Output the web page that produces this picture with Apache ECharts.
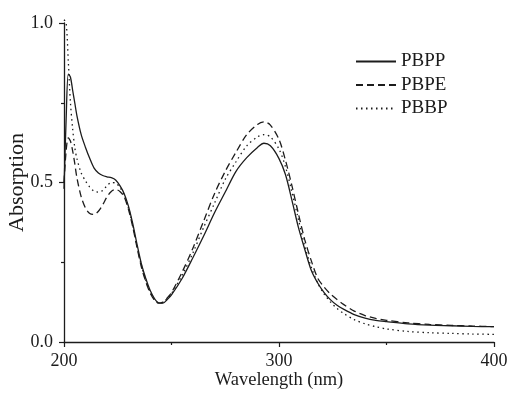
<!DOCTYPE html>
<html>
<head>
<meta charset="utf-8">
<script src="https://cdn.jsdelivr.net/npm/echarts@6/dist/echarts.min.js"></script>
<style>
  html, body { margin: 0; padding: 0; background: #fff; }
  #chart { width: 507px; height: 394px; }
</style>
</head>
<body>
<div id="chart"></div>
<script>
// absorption spectra
const wavelength = [200, 201, 202, 203, 204, 205, 206, 208, 210, 212, 214, 216, 218, 220, 222, 224, 226, 228, 230, 232, 234, 236, 238, 240, 242, 244, 246, 248, 250, 255, 260, 265, 270, 275, 280, 285, 290, 293, 296, 300, 303, 306, 309, 312, 315, 318, 321, 324, 327, 330, 335, 340, 345, 350, 360, 370, 380, 390, 400];

const pbpp = [0.48, 0.70, 0.84, 0.83, 0.79, 0.75, 0.71, 0.65, 0.61, 0.575, 0.545, 0.53, 0.522, 0.518, 0.515, 0.508, 0.49, 0.465, 0.425, 0.37, 0.305, 0.245, 0.20, 0.163, 0.137, 0.123, 0.122, 0.133, 0.148, 0.20, 0.265, 0.333, 0.405, 0.47, 0.535, 0.578, 0.61, 0.623, 0.615, 0.575, 0.525, 0.445, 0.36, 0.29, 0.225, 0.185, 0.155, 0.132, 0.115, 0.103, 0.086, 0.075, 0.068, 0.064, 0.057, 0.053, 0.051, 0.049, 0.048];

const pbpe = [0.50, 0.60, 0.64, 0.63, 0.60, 0.56, 0.515, 0.455, 0.42, 0.403, 0.40, 0.41, 0.43, 0.455, 0.472, 0.478, 0.472, 0.455, 0.415, 0.36, 0.295, 0.235, 0.19, 0.155, 0.132, 0.122, 0.125, 0.138, 0.155, 0.22, 0.295, 0.38, 0.465, 0.535, 0.595, 0.65, 0.682, 0.69, 0.68, 0.635, 0.57, 0.49, 0.403, 0.32, 0.255, 0.20, 0.172, 0.15, 0.133, 0.118, 0.097, 0.083, 0.074, 0.068, 0.06, 0.055, 0.052, 0.05, 0.048];

const pbbp = [1.01, 1.0, 0.88, 0.75, 0.67, 0.61, 0.575, 0.53, 0.505, 0.485, 0.473, 0.47, 0.475, 0.49, 0.50, 0.498, 0.485, 0.46, 0.42, 0.365, 0.30, 0.24, 0.195, 0.158, 0.134, 0.122, 0.124, 0.136, 0.152, 0.21, 0.28, 0.36, 0.435, 0.51, 0.565, 0.615, 0.643, 0.65, 0.643, 0.605, 0.55, 0.47, 0.385, 0.30, 0.235, 0.185, 0.15, 0.125, 0.105, 0.09, 0.07, 0.057, 0.048, 0.041, 0.033, 0.029, 0.027, 0.025, 0.024];

const seriesNames = ['PBPP', 'PBPE', 'PBBP'];
const xTicks = [200, 300, 400];
const yTicks = ['0.0', '0.5', '1.0'];

const ink = '#1c1c1c';
const font = 'Liberation Serif, Times New Roman, serif';

const pairs = (ys) => wavelength.map((w, i) => [w, ys[i]]);

function line(name, ys, type) {
  return {
    name,
    type: 'line',
    data: pairs(ys),
    symbol: 'none',
    smooth: 0.3,
    clip: false,
    lineStyle: { color: ink, width: 1.3, type },
    itemStyle: { color: ink }
  };
}

const chart = echarts.init(document.getElementById('chart'), null, { renderer: 'canvas' });

chart.setOption({
  animation: false,
  textStyle: { fontFamily: font, color: ink },
  grid: { left: 64, right: 13, top: 23, bottom: 52, containLabel: false, outerBoundsMode: 'none' },
  legend: {
    orient: 'vertical',
    left: 355,
    top: 52,
    padding: 0,
    itemWidth: 40,
    itemHeight: 14,
    itemGap: 4.5,
    itemStyle: { opacity: 0, borderWidth: 0 },
    data: seriesNames,
    textStyle: { fontFamily: font, fontSize: 19, lineHeight: 18, color: ink }
  },
  xAxis: {
    type: 'value',
    min: 200,
    max: 400,
    interval: 100,
    name: 'Wavelength (nm)',
    nameLocation: 'middle',
    nameGap: 29,
    nameMoveOverlap: false,
    nameTextStyle: { fontFamily: font, fontSize: 18.5, color: ink },
    axisLine: { lineStyle: { color: ink, width: 1.3 } },
    axisTick: { length: 5, lineStyle: { color: ink, width: 1.2 } },
    minorTick: { show: true, splitNumber: 2, length: 3, lineStyle: { color: ink, width: 1.2 } },
    splitLine: { show: false },
    axisLabel: {
      margin: 10,
      fontFamily: font,
      fontSize: 18,
      color: ink,
      formatter: (v) => (xTicks.includes(v) ? String(v) : '')
    }
  },
  yAxis: {
    type: 'value',
    min: 0,
    max: 1,
    interval: 0.5,
    name: 'Absorption',
    nameLocation: 'middle',
    nameGap: 36,
    nameMoveOverlap: false,
    nameTextStyle: { fontFamily: font, fontSize: 22, color: ink },
    axisLine: { show: true, lineStyle: { color: ink, width: 1.3 } },
    axisTick: { show: true, length: 5, lineStyle: { color: ink, width: 1.2 } },
    minorTick: { show: true, splitNumber: 2, length: 3, lineStyle: { color: ink, width: 1.2 } },
    splitLine: { show: false },
    axisLabel: {
      margin: 11,
      fontFamily: font,
      fontSize: 18,
      color: ink,
      formatter: (v) => yTicks[Math.round(v * 2)]
    }
  },
  series: [
    line(seriesNames[0], pbpp, 'solid'),
    line(seriesNames[1], pbpe, [7, 4]),
    line(seriesNames[2], pbbp, [1.5, 3.5])
  ]
});
</script>
</body>
</html>
